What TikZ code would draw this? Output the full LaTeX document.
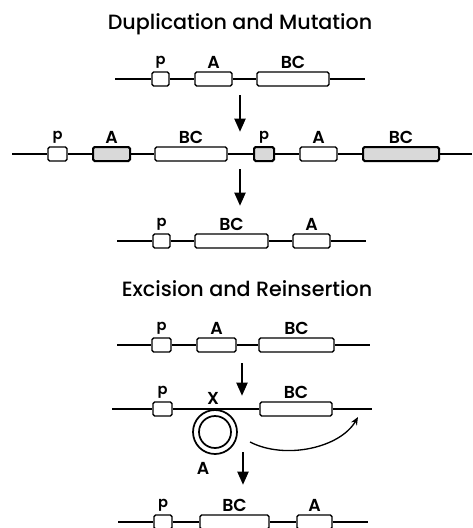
\documentclass[tikz,border=0pt]{standalone}
\usepackage{fontspec}
\setmainfont{Poppins}
\newfontfamily\medfont{Poppins Medium}
\newfontfamily\semifont{Poppins SemiBold}
\usetikzlibrary{arrows.meta}
\newcommand\pl{{\fontsize{11}{13}\selectfont p}}
\tikzset{
  gene/.style={draw, line width=1.1pt, rounded corners=1.2pt, minimum height=10.5pt, inner sep=0pt},
  shaded/.style={gene, fill=gray!30, line width=1.5pt},
  lbl/.style={anchor=center, inner sep=0pt, font=\semifont\fontsize{13}{15}\selectfont},
  title/.style={inner sep=0pt, font=\medfont\fontsize{15.5}{18}\selectfont},
  dna/.style={line width=1.1pt},
  bigarrow/.style={line width=2.2pt, -{Triangle[width=8pt,length=10pt]}},
  curvearrow/.style={line width=1pt, -{Stealth[width=5pt,length=6pt]}},
}
\newcommand\gbox[6][gene]{%
  \node[#1, minimum width={(#4-#3)*0.75pt}] (#2) at ({(#3+#4)/2},#5) {};
  \node[lbl] (#2l) at ({(#3+#4)/2},#5-17) {#6};}
\begin{document}
\begin{tikzpicture}[x=0.75pt,y=-0.75pt]
\useasboundingbox (0,0) rectangle (472,528);
% titles
\node[title] (t1) at (240,24) {Duplication and Mutation};
\node[title] (t2) at (247,289) {Excision and Reinsertion};
% row 1
\coordinate (L1) at (115,79); \coordinate (R1) at (365,79);
\gbox{p1}{152}{169}{79}{\pl}
\gbox{a1}{195}{232}{79}{A}
\gbox{b1}{257}{329}{79}{BC}
\draw[dna] (L1) -- (p1.west) (p1.east) -- (a1.west) (a1.east) -- (b1.west) (b1.east) -- (R1);
% arrow 1
\coordinate (s1) at (240,95); \coordinate (e1) at (240,132);
\draw[bigarrow] (s1) -- (e1);
% row 2
\coordinate (L2) at (12,154); \coordinate (R2) at (472,154);
\gbox{p2}{48}{67}{154}{\pl}
\gbox[shaded]{a2}{93}{130}{154}{A}
\gbox{b2}{155}{227}{154}{BC}
\gbox[shaded]{p2b}{254}{274}{154}{\pl}
\gbox{a2b}{300}{337}{154}{A}
\gbox[shaded]{b2b}{363}{439}{154}{BC}
\draw[dna] (L2) -- (p2.west) (p2.east) -- (a2.west) (a2.east) -- (b2.west) (b2.east) -- (p2b.west)
  (p2b.east) -- (a2b.west) (a2b.east) -- (b2b.west) (b2b.east) -- (R2);
% arrow 2
\coordinate (s2) at (240,169); \coordinate (e2) at (240,206);
\draw[bigarrow] (s2) -- (e2);
% row 3
\coordinate (L3) at (117,241); \coordinate (R3) at (366,241);
\gbox{p3}{153}{170}{241}{\pl}
\gbox{b3}{195}{268}{241}{BC}
\gbox{a3}{293}{330}{241}{A}
\draw[dna] (L3) -- (p3.west) (p3.east) -- (b3.west) (b3.east) -- (a3.west) (a3.east) -- (R3);
% row 4
\coordinate (L4) at (117,345); \coordinate (R4) at (370,345);
\gbox{p4}{152}{171}{345}{\pl}
\gbox{a4}{197}{236}{345}{A}
\gbox{b4}{259}{334}{345}{BC}
\draw[dna] (L4) -- (p4.west) (p4.east) -- (a4.west) (a4.east) -- (b4.west) (b4.east) -- (R4);
% arrow 3
\coordinate (s3) at (242,363); \coordinate (e3) at (242,396);
\draw[bigarrow] (s3) -- (e3);
% row 5
\coordinate (L5) at (112,409); \coordinate (R5) at (372,409);
\gbox{p5}{153}{172}{409}{\pl}
\gbox{b5}{260}{332}{409}{BC}
\node[lbl] (x5) at (213,398) {X};
\node[draw, circle, line width=1.3pt, minimum size=33pt, inner sep=0pt] (ring) at (215,432) {};
\node[draw, circle, line width=1.3pt, minimum size=24pt, inner sep=0pt] (ringin) at (215,432) {};
\node[lbl] (ringl) at (203,468) {A};
\draw[dna] (L5) -- (p5.west) (p5.east) -- (b5.west) (b5.east) -- (R5);
\coordinate (cs) at (250,442); \coordinate (ce) at (358,417);
\draw[curvearrow] (cs) .. controls (285,460) and (340,448) .. (ce);
% arrow 4
\coordinate (s4) at (243,452); \coordinate (e4) at (243,485);
\draw[bigarrow] (s4) -- (e4);
% row 6
\coordinate (L6) at (118,522); \coordinate (R6) at (368,522);
\gbox{p6}{154}{172}{522}{\pl}
\gbox{b6}{200}{269}{522}{BC}
\gbox{a6}{297}{332}{522}{A}
\draw[dna] (L6) -- (p6.west) (p6.east) -- (b6.west) (b6.east) -- (a6.west) (a6.east) -- (R6);
\end{tikzpicture}
\end{document}
